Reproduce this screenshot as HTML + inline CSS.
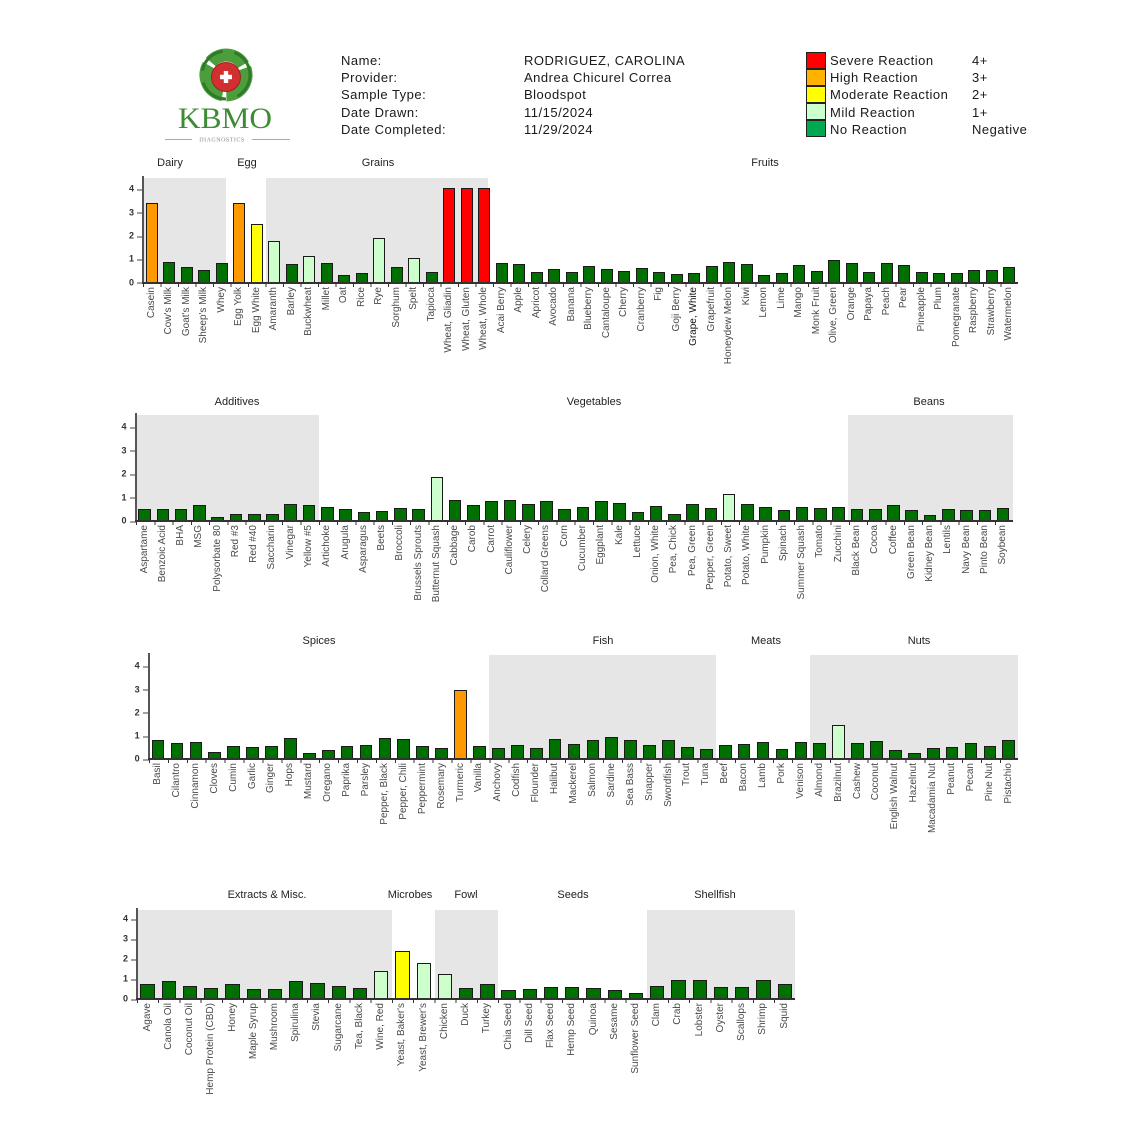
<!DOCTYPE html>
<html><head><meta charset="utf-8">
<style>
body{margin:0;width:1140px;height:1140px;background:#fff;position:relative;overflow:hidden;font-family:"Liberation Sans",Arial,sans-serif;}
.t{position:absolute;font-size:13px;line-height:17.2px;color:#1a1a1a;white-space:nowrap;letter-spacing:0.5px}
.sw{position:absolute;left:806px;width:20px;height:17.2px;border:1px solid #222;box-sizing:border-box}
.gt{position:absolute;font-size:11px;line-height:12px;color:#222;transform:translate(-50%,-50%);white-space:nowrap}
.pl{position:absolute;display:flex}
.g{position:absolute;top:0;bottom:0;background:#e6e6e6}
.c{position:relative;flex:0 0 var(--p);height:100%}
.c i{position:absolute;bottom:0;left:50%;width:var(--w);margin-left:calc(var(--w) / -2);height:calc(var(--v) * var(--u));background:#007000;border:1px solid #1a1a1a;box-sizing:border-box;z-index:2}
.c i.o{background:#ff9900}.c i.y{background:#ffff00}.c i.m{background:#ccffcc}.c i.r{background:#ff0000}
.c span{position:absolute;top:calc(100% + 4px);left:50%;writing-mode:vertical-rl;transform:translateX(-50%) rotate(180deg);font-size:10px;line-height:10px;color:#4a4a4a;white-space:nowrap}
.ya{position:absolute;left:-1px;top:-2px;bottom:0;width:2px;background:#555;z-index:3}
.xa{position:absolute;left:-1px;right:0;bottom:-1px;height:2px;background:#333;z-index:3}
.xt{position:absolute;left:0;right:0;top:100%;height:4px;background:repeating-linear-gradient(90deg,#333 0,#333 1px,transparent 1px,transparent var(--p));z-index:3}
em{position:absolute;right:calc(100% + 9px);transform:translateY(-50%);font-size:9px;font-weight:bold;line-height:9px;color:#333;font-style:normal}
em::after{content:"";position:absolute;left:calc(100% + 3px);top:50%;width:6px;height:1px;background:#444}
.k0{top:100%}.k1{top:calc(100% - var(--u))}.k2{top:calc(100% - 2 * var(--u))}.k3{top:calc(100% - 3 * var(--u))}.k4{top:calc(100% - 4 * var(--u))}
</style></head><body>

<!-- Logo -->
<svg style="position:absolute;left:150px;top:40px" width="150" height="110" viewBox="0 0 150 110">
  <circle cx="76" cy="35" r="20" fill="none" stroke="#4c9d3c" stroke-width="13" stroke-dasharray="38 3.9" transform="rotate(-20 76 35)"/>
  <circle cx="76" cy="35" r="24" fill="none" stroke="#2f7a2a" stroke-width="3" stroke-dasharray="30 11.9" transform="rotate(-10 76 35)"/>
  <circle cx="76" cy="37" r="14.5" fill="#d23030" stroke="#a51e1e" stroke-width="1"/>
  <rect x="70" y="34.8" width="12" height="4.4" fill="#fff"/>
  <rect x="73.8" y="31" width="4.4" height="12" fill="#fff"/>
  <text x="28" y="88" font-family="Liberation Serif, serif" font-size="30" fill="#3c8c34" textLength="94" lengthAdjust="spacingAndGlyphs">KBMO</text>
  <line x1="15" y1="99.5" x2="42" y2="99.5" stroke="#aaa" stroke-width="1"/>
  <line x1="102" y1="99.5" x2="140" y2="99.5" stroke="#aaa" stroke-width="1"/>
  <text x="72" y="101.5" font-family="Liberation Serif, serif" font-size="6" fill="#888" text-anchor="middle" letter-spacing="0.5">DIAGNOSTICS</text>
</svg>

<!-- Info -->
<div class="t" style="left:341px;top:52px">Name:<br>Provider:<br>Sample Type:<br>Date Drawn:<br>Date Completed:</div>
<div class="t" style="left:524px;top:52px">RODRIGUEZ, CAROLINA<br>Andrea Chicurel Correa<br>Bloodspot<br>11/15/2024<br>11/29/2024</div>

<!-- Legend -->
<div class="sw" style="top:51.5px;background:#ff0000"></div>
<div class="sw" style="top:68.7px;background:#ffb300"></div>
<div class="sw" style="top:85.9px;background:#ffff00"></div>
<div class="sw" style="top:103.1px;background:#ccffcc"></div>
<div class="sw" style="top:120.3px;background:#00a84f"></div>
<div class="t" style="left:830px;top:52px">Severe Reaction<br>High Reaction<br>Moderate Reaction<br>Mild Reaction<br>No Reaction</div>
<div class="t" style="left:972px;top:52px">4+<br>3+<br>2+<br>1+<br>Negative</div>

<!-- Chart 1 titles -->
<div class="gt" style="left:170px;top:163px">Dairy</div>
<div class="gt" style="left:247px;top:163px">Egg</div>
<div class="gt" style="left:378px;top:163px">Grains</div>
<div class="gt" style="left:765px;top:163px">Fruits</div>

<div class="pl" style="left:143px;top:178px;width:875px;height:104.7px;--p:17.5px;--u:23.3px;--w:12.3px">
<div class="g" style="left:0;width:83px"></div>
<div class="g" style="left:123px;width:222px"></div>
<div class="ya"></div><div class="xa"></div><div class="xt"></div>
<em class="k0">0</em><em class="k1">1</em><em class="k2">2</em><em class="k3">3</em><em class="k4">4</em>
<div class="c"><i class="o" style="--v:3.4"></i><span>Casein</span></div>
<div class="c"><i style="--v:.9"></i><span>Cow's Milk</span></div>
<div class="c"><i style="--v:.67"></i><span>Goat's Milk</span></div>
<div class="c"><i style="--v:.53"></i><span>Sheep's Milk</span></div>
<div class="c"><i style="--v:.86"></i><span>Whey</span></div>
<div class="c"><i class="o" style="--v:3.43"></i><span>Egg Yolk</span></div>
<div class="c"><i class="y" style="--v:2.54"></i><span>Egg White</span></div>
<div class="c"><i class="m" style="--v:1.77"></i><span>Amaranth</span></div>
<div class="c"><i style="--v:.79"></i><span>Barley</span></div>
<div class="c"><i class="m" style="--v:1.14"></i><span>Buckwheat</span></div>
<div class="c"><i style="--v:.83"></i><span>Millet</span></div>
<div class="c"><i style="--v:.33"></i><span>Oat</span></div>
<div class="c"><i style="--v:.4"></i><span>Rice</span></div>
<div class="c"><i class="m" style="--v:1.93"></i><span>Rye</span></div>
<div class="c"><i style="--v:.69"></i><span>Sorghum</span></div>
<div class="c"><i class="m" style="--v:1.07"></i><span>Spelt</span></div>
<div class="c"><i style="--v:.46"></i><span>Tapioca</span></div>
<div class="c"><i class="r" style="--v:4.08"></i><span>Wheat, Gliadin</span></div>
<div class="c"><i class="r" style="--v:4.08"></i><span>Wheat, Gluten</span></div>
<div class="c"><i class="r" style="--v:4.08"></i><span>Wheat, Whole</span></div>
<div class="c"><i style="--v:.83"></i><span>Acai Berry</span></div>
<div class="c"><i style="--v:.8"></i><span>Apple</span></div>
<div class="c"><i style="--v:.46"></i><span>Apricot</span></div>
<div class="c"><i style="--v:.6"></i><span>Avocado</span></div>
<div class="c"><i style="--v:.46"></i><span>Banana</span></div>
<div class="c"><i style="--v:.73"></i><span>Blueberry</span></div>
<div class="c"><i style="--v:.59"></i><span>Cantaloupe</span></div>
<div class="c"><i style="--v:.5"></i><span>Cherry</span></div>
<div class="c"><i style="--v:.64"></i><span>Cranberry</span></div>
<div class="c"><i style="--v:.46"></i><span>Fig</span></div>
<div class="c"><i style="--v:.39"></i><span>Goji Berry</span></div>
<div class="c"><i style="--v:.41"></i><span style="color:#111">Grape, White</span></div>
<div class="c"><i style="--v:.7"></i><span>Grapefruit</span></div>
<div class="c"><i style="--v:.91"></i><span>Honeydew Melon</span></div>
<div class="c"><i style="--v:.8"></i><span>Kiwi</span></div>
<div class="c"><i style="--v:.33"></i><span>Lemon</span></div>
<div class="c"><i style="--v:.4"></i><span>Lime</span></div>
<div class="c"><i style="--v:.77"></i><span>Mango</span></div>
<div class="c"><i style="--v:.51"></i><span>Monk Fruit</span></div>
<div class="c"><i style="--v:.97"></i><span>Olive, Green</span></div>
<div class="c"><i style="--v:.84"></i><span>Orange</span></div>
<div class="c"><i style="--v:.46"></i><span>Papaya</span></div>
<div class="c"><i style="--v:.86"></i><span>Peach</span></div>
<div class="c"><i style="--v:.77"></i><span>Pear</span></div>
<div class="c"><i style="--v:.46"></i><span>Pineapple</span></div>
<div class="c"><i style="--v:.4"></i><span>Plum</span></div>
<div class="c"><i style="--v:.43"></i><span>Pomegranate</span></div>
<div class="c"><i style="--v:.53"></i><span>Raspberry</span></div>
<div class="c"><i style="--v:.53"></i><span>Strawberry</span></div>
<div class="c"><i style="--v:.69"></i><span>Watermelon</span></div>
</div>

<!-- Chart 2 -->
<div class="gt" style="left:237px;top:402px">Additives</div>
<div class="gt" style="left:594px;top:402px">Vegetables</div>
<div class="gt" style="left:929px;top:402px">Beans</div>

<div class="pl" style="left:135.5px;top:415px;width:877.4px;height:106px;--p:18.28px;--u:23.4px;--w:12.6px">
<div class="g" style="left:0;width:183.8px"></div>
<div class="g" style="left:712.5px;width:165px"></div>
<div class="ya"></div><div class="xa"></div><div class="xt"></div>
<em class="k0">0</em><em class="k1">1</em><em class="k2">2</em><em class="k3">3</em><em class="k4">4</em>
<div class="c"><i style="--v:.51"></i><span>Aspartame</span></div>
<div class="c"><i style="--v:.51"></i><span>Benzoic Acid</span></div>
<div class="c"><i style="--v:.5"></i><span>BHA</span></div>
<div class="c"><i style="--v:.69"></i><span>MSG</span></div>
<div class="c"><i style="--v:.19"></i><span>Polysorbate 80</span></div>
<div class="c"><i style="--v:.31"></i><span>Red #3</span></div>
<div class="c"><i style="--v:.31"></i><span>Red #40</span></div>
<div class="c"><i style="--v:.31"></i><span>Saccharin</span></div>
<div class="c"><i style="--v:.71"></i><span>Vinegar</span></div>
<div class="c"><i style="--v:.67"></i><span>Yellow #5</span></div>
<div class="c"><i style="--v:.61"></i><span>Artichoke</span></div>
<div class="c"><i style="--v:.51"></i><span>Arugula</span></div>
<div class="c"><i style="--v:.37"></i><span>Asparagus</span></div>
<div class="c"><i style="--v:.43"></i><span>Beets</span></div>
<div class="c"><i style="--v:.54"></i><span>Broccoli</span></div>
<div class="c"><i style="--v:.51"></i><span>Brussels Sprouts</span></div>
<div class="c"><i class="m" style="--v:1.86"></i><span>Butternut Squash</span></div>
<div class="c"><i style="--v:.91"></i><span>Cabbage</span></div>
<div class="c"><i style="--v:.67"></i><span>Carob</span></div>
<div class="c"><i style="--v:.86"></i><span>Carrot</span></div>
<div class="c"><i style="--v:.91"></i><span>Cauliflower</span></div>
<div class="c"><i style="--v:.73"></i><span>Celery</span></div>
<div class="c"><i style="--v:.86"></i><span>Collard Greens</span></div>
<div class="c"><i style="--v:.51"></i><span>Corn</span></div>
<div class="c"><i style="--v:.6"></i><span>Cucumber</span></div>
<div class="c"><i style="--v:.87"></i><span>Eggplant</span></div>
<div class="c"><i style="--v:.79"></i><span>Kale</span></div>
<div class="c"><i style="--v:.39"></i><span>Lettuce</span></div>
<div class="c"><i style="--v:.66"></i><span>Onion, White</span></div>
<div class="c"><i style="--v:.3"></i><span>Pea, Chick</span></div>
<div class="c"><i style="--v:.73"></i><span>Pea, Green</span></div>
<div class="c"><i style="--v:.54"></i><span>Pepper, Green</span></div>
<div class="c"><i class="m" style="--v:1.16"></i><span>Potato, Sweet</span></div>
<div class="c"><i style="--v:.73"></i><span>Potato, White</span></div>
<div class="c"><i style="--v:.61"></i><span>Pumpkin</span></div>
<div class="c"><i style="--v:.49"></i><span>Spinach</span></div>
<div class="c"><i style="--v:.61"></i><span>Summer Squash</span></div>
<div class="c"><i style="--v:.54"></i><span>Tomato</span></div>
<div class="c"><i style="--v:.61"></i><span>Zucchini</span></div>
<div class="c"><i style="--v:.5"></i><span>Black Bean</span></div>
<div class="c"><i style="--v:.51"></i><span>Cocoa</span></div>
<div class="c"><i style="--v:.69"></i><span>Coffee</span></div>
<div class="c"><i style="--v:.46"></i><span>Green Bean</span></div>
<div class="c"><i style="--v:.26"></i><span>Kidney Bean</span></div>
<div class="c"><i style="--v:.51"></i><span>Lentils</span></div>
<div class="c"><i style="--v:.46"></i><span>Navy Bean</span></div>
<div class="c"><i style="--v:.47"></i><span>Pinto Bean</span></div>
<div class="c"><i style="--v:.56"></i><span>Soybean</span></div>
</div>

<!-- Chart 3 -->
<div class="gt" style="left:319px;top:641px">Spices</div>
<div class="gt" style="left:603px;top:641px">Fish</div>
<div class="gt" style="left:766px;top:641px">Meats</div>
<div class="gt" style="left:919px;top:641px">Nuts</div>

<div class="pl" style="left:148.6px;top:655px;width:869.9px;height:104.3px;--p:18.91px;--u:23.2px;--w:12.7px">
<div class="g" style="left:340.4px;width:227px"></div>
<div class="g" style="left:661.4px;width:208.5px"></div>
<div class="ya"></div><div class="xa"></div><div class="xt"></div>
<em class="k0">0</em><em class="k1">1</em><em class="k2">2</em><em class="k3">3</em><em class="k4">4</em>
<div class="c"><i style="--v:.85"></i><span>Basil</span></div>
<div class="c"><i style="--v:.72"></i><span>Cilantro</span></div>
<div class="c"><i style="--v:.75"></i><span>Cinnamon</span></div>
<div class="c"><i style="--v:.33"></i><span>Cloves</span></div>
<div class="c"><i style="--v:.58"></i><span>Cumin</span></div>
<div class="c"><i style="--v:.55"></i><span>Garlic</span></div>
<div class="c"><i style="--v:.59"></i><span>Ginger</span></div>
<div class="c"><i style="--v:.91"></i><span>Hops</span></div>
<div class="c"><i style="--v:.29"></i><span>Mustard</span></div>
<div class="c"><i style="--v:.4"></i><span>Oregano</span></div>
<div class="c"><i style="--v:.59"></i><span>Paprika</span></div>
<div class="c"><i style="--v:.62"></i><span>Parsley</span></div>
<div class="c"><i style="--v:.94"></i><span>Pepper, Black</span></div>
<div class="c"><i style="--v:.88"></i><span>Pepper, Chili</span></div>
<div class="c"><i style="--v:.59"></i><span>Peppermint</span></div>
<div class="c"><i style="--v:.49"></i><span>Rosemary</span></div>
<div class="c"><i class="o" style="--v:2.99"></i><span>Turmeric</span></div>
<div class="c"><i style="--v:.56"></i><span>Vanilla</span></div>
<div class="c"><i style="--v:.47"></i><span>Anchovy</span></div>
<div class="c"><i style="--v:.6"></i><span>Codfish</span></div>
<div class="c"><i style="--v:.5"></i><span>Flounder</span></div>
<div class="c"><i style="--v:.86"></i><span>Halibut</span></div>
<div class="c"><i style="--v:.68"></i><span>Mackerel</span></div>
<div class="c"><i style="--v:.83"></i><span>Salmon</span></div>
<div class="c"><i style="--v:.95"></i><span>Sardine</span></div>
<div class="c"><i style="--v:.85"></i><span>Sea Bass</span></div>
<div class="c"><i style="--v:.62"></i><span>Snapper</span></div>
<div class="c"><i style="--v:.85"></i><span>Swordfish</span></div>
<div class="c"><i style="--v:.55"></i><span>Trout</span></div>
<div class="c"><i style="--v:.46"></i><span>Tuna</span></div>
<div class="c"><i style="--v:.62"></i><span>Beef</span></div>
<div class="c"><i style="--v:.68"></i><span>Bacon</span></div>
<div class="c"><i style="--v:.76"></i><span>Lamb</span></div>
<div class="c"><i style="--v:.46"></i><span>Pork</span></div>
<div class="c"><i style="--v:.73"></i><span>Venison</span></div>
<div class="c"><i style="--v:.7"></i><span>Almond</span></div>
<div class="c"><i class="m" style="--v:1.47"></i><span>Brazilnut</span></div>
<div class="c"><i style="--v:.69"></i><span>Cashew</span></div>
<div class="c"><i style="--v:.79"></i><span>Coconut</span></div>
<div class="c"><i style="--v:.4"></i><span>English Walnut</span></div>
<div class="c"><i style="--v:.29"></i><span>Hazelnut</span></div>
<div class="c"><i style="--v:.47"></i><span>Macadamia Nut</span></div>
<div class="c"><i style="--v:.53"></i><span>Peanut</span></div>
<div class="c"><i style="--v:.7"></i><span>Pecan</span></div>
<div class="c"><i style="--v:.59"></i><span>Pine Nut</span></div>
<div class="c"><i style="--v:.83"></i><span>Pistachio</span></div>
</div>

<!-- Chart 4 -->
<div class="gt" style="left:267px;top:895px">Extracts &amp; Misc.</div>
<div class="gt" style="left:410px;top:895px">Microbes</div>
<div class="gt" style="left:466px;top:895px">Fowl</div>
<div class="gt" style="left:573px;top:895px">Seeds</div>
<div class="gt" style="left:715px;top:895px">Shellfish</div>

<div class="pl" style="left:137px;top:910px;width:658.4px;height:89.3px;--p:21.24px;--u:20px;--w:14.3px">
<div class="g" style="left:0;width:255px"></div>
<div class="g" style="left:297.6px;width:63.7px"></div>
<div class="g" style="left:510px;width:148.4px"></div>
<div class="ya"></div><div class="xa"></div><div class="xt"></div>
<em class="k0">0</em><em class="k1">1</em><em class="k2">2</em><em class="k3">3</em><em class="k4">4</em>
<div class="c"><i style="--v:.77"></i><span>Agave</span></div>
<div class="c"><i style="--v:.93"></i><span>Canola Oil</span></div>
<div class="c"><i style="--v:.68"></i><span>Coconut Oil</span></div>
<div class="c"><i style="--v:.55"></i><span>Hemp Protein (CBD)</span></div>
<div class="c"><i style="--v:.77"></i><span>Honey</span></div>
<div class="c"><i style="--v:.5"></i><span>Maple Syrup</span></div>
<div class="c"><i style="--v:.5"></i><span>Mushroom</span></div>
<div class="c"><i style="--v:.92"></i><span>Spirulina</span></div>
<div class="c"><i style="--v:.8"></i><span>Stevia</span></div>
<div class="c"><i style="--v:.68"></i><span>Sugarcane</span></div>
<div class="c"><i style="--v:.55"></i><span>Tea, Black</span></div>
<div class="c"><i class="m" style="--v:1.4"></i><span>Wine, Red</span></div>
<div class="c"><i class="y" style="--v:2.42"></i><span>Yeast, Baker's</span></div>
<div class="c"><i class="m" style="--v:1.83"></i><span>Yeast, Brewer's</span></div>
<div class="c"><i class="m" style="--v:1.27"></i><span>Chicken</span></div>
<div class="c"><i style="--v:.57"></i><span>Duck</span></div>
<div class="c"><i style="--v:.75"></i><span>Turkey</span></div>
<div class="c"><i style="--v:.47"></i><span>Chia Seed</span></div>
<div class="c"><i style="--v:.5"></i><span>Dill Seed</span></div>
<div class="c"><i style="--v:.62"></i><span>Flax Seed</span></div>
<div class="c"><i style="--v:.63"></i><span>Hemp Seed</span></div>
<div class="c"><i style="--v:.55"></i><span>Quinoa</span></div>
<div class="c"><i style="--v:.47"></i><span>Sesame</span></div>
<div class="c"><i style="--v:.3"></i><span>Sunflower Seed</span></div>
<div class="c"><i style="--v:.67"></i><span>Clam</span></div>
<div class="c"><i style="--v:.97"></i><span>Crab</span></div>
<div class="c"><i style="--v:.97"></i><span>Lobster</span></div>
<div class="c"><i style="--v:.63"></i><span>Oyster</span></div>
<div class="c"><i style="--v:.63"></i><span>Scallops</span></div>
<div class="c"><i style="--v:.97"></i><span>Shrimp</span></div>
<div class="c"><i style="--v:.75"></i><span>Squid</span></div>
</div>

</body></html>
